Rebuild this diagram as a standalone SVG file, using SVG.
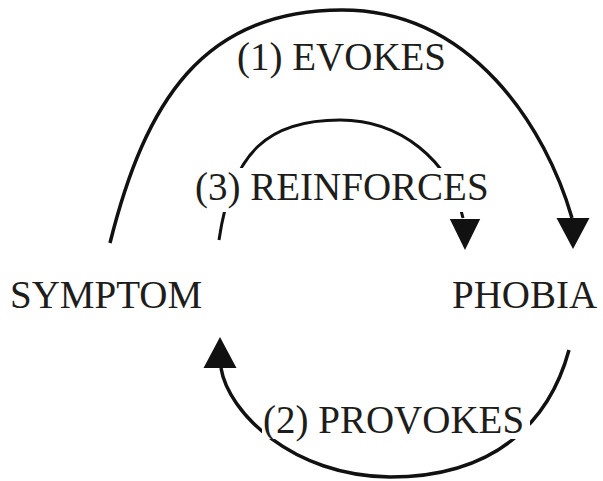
<svg xmlns="http://www.w3.org/2000/svg" width="603" height="481" viewBox="0 0 603 481">
  <style>
    .lbl { font-family: "Liberation Serif", "Times New Roman", serif; font-size: 39px; fill: #1d1d1b; }
    .arc { fill: none; stroke: #111; stroke-width: 3.5; stroke-linecap: butt; }
    .thin { stroke-width: 3; }
    .bg { fill: #ffffff; }
    .head { fill: #111; }
  </style>
  <defs>
    <path id="arrowhead" d="M0,0 L-16.5,-31 L16.5,-31 Z"/>
  </defs>
  <rect width="603" height="481" fill="#ffffff"/>

  <g id="connectors">
    <g id="evokes">
      <path class="arc" d="M110,243 C145,103 202,10 342,10 C472,10 546,128 572,218"/>
      <use href="#arrowhead" class="head" transform="translate(573,249)"/>
    </g>
    <g id="reinforces">
      <path class="arc thin" d="M219,240 C232,150 270,120 340,120 C400,120 450,160 463,218"/>
      <use href="#arrowhead" class="head" transform="translate(465,250) scale(0.92,1)"/>
    </g>
    <g id="provokes">
      <path class="arc" d="M569,350 C550,420 497,477 390,477 C292,476 228,412 221,368"/>
      <use href="#arrowhead" class="head" transform="translate(220,337) rotate(180)"/>
    </g>
  </g>

  <g id="label-evokes">
    <text class="lbl" x="237" y="70">(1) EVOKES</text>
  </g>
  <g id="label-reinforces">
    <rect class="bg" x="192" y="168" width="304" height="44"/>
    <text class="lbl" x="195" y="200">(3) REINFORCES</text>
  </g>
  <g id="label-provokes">
    <rect class="bg" x="262" y="398" width="268" height="41"/>
    <text class="lbl" x="263" y="433">(2) PROVOKES</text>
  </g>

  <g id="node-symptom">
    <text class="lbl" x="10" y="308">SYMPTOM</text>
  </g>
  <g id="node-phobia">
    <text class="lbl" x="452" y="308">PHOBIA</text>
  </g>
</svg>
